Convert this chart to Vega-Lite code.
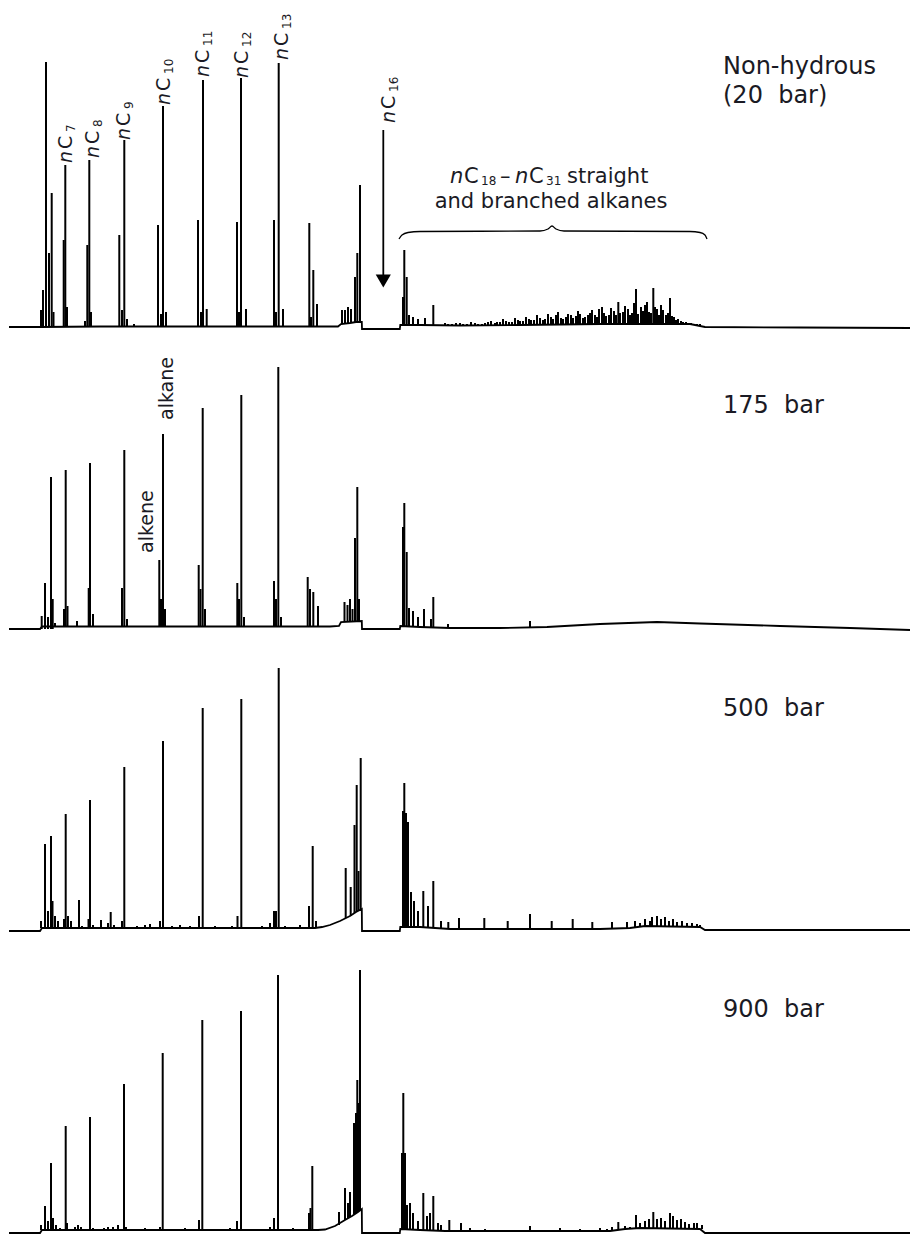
{
"$schema":"https://vega.github.io/schema/vega-lite/v6.json",
"padding":0,
"background":"white",
"config":{"view":{"stroke":null},"concat":{"spacing":0},"text":{"font":"DejaVu Sans","color":"#1a1a24"}},
"datasets":{
"base":[
{"p":1,"x":9,"y":0},{"p":1,"x":40,"y":0},{"p":1,"x":100,"y":0.5},{"p":1,"x":300,"y":0.5},{"p":1,"x":338,"y":0.5},{"p":1,"x":341,"y":3},{"p":1,"x":350,"y":4},{"p":1,"x":356,"y":5},{"p":1,"x":361.8,"y":5},{"p":1,"x":362,"y":-2},{"p":1,"x":399.8,"y":-2},{"p":1,"x":400.3,"y":2},{"p":1,"x":420,"y":2},{"p":1,"x":460,"y":1.5},{"p":1,"x":520,"y":2},{"p":1,"x":600,"y":3},{"p":1,"x":690,"y":3},{"p":1,"x":705,"y":0},{"p":1,"x":800,"y":-0.5},{"p":1,"x":910,"y":-1},
{"p":2,"x":9,"y":0},{"p":2,"x":40,"y":0},{"p":2,"x":42,"y":2.5},{"p":2,"x":330,"y":2.5},{"p":2,"x":339,"y":3},{"p":2,"x":341,"y":7},{"p":2,"x":361.8,"y":8},{"p":2,"x":362,"y":0},{"p":2,"x":399.8,"y":0},{"p":2,"x":400.3,"y":3},{"p":2,"x":420,"y":2},{"p":2,"x":450,"y":1},{"p":2,"x":500,"y":1},{"p":2,"x":547,"y":2},{"p":2,"x":600,"y":5},{"p":2,"x":657,"y":7},{"p":2,"x":700,"y":5.5},{"p":2,"x":780,"y":3},{"p":2,"x":850,"y":1},{"p":2,"x":910,"y":-1},
{"p":3,"x":9,"y":0},{"p":3,"x":40,"y":0},{"p":3,"x":42,"y":3},{"p":3,"x":315,"y":3},{"p":3,"x":322,"y":4},{"p":3,"x":330,"y":6},{"p":3,"x":340,"y":10},{"p":3,"x":350,"y":15},{"p":3,"x":356,"y":19},{"p":3,"x":361.8,"y":22},{"p":3,"x":362,"y":0},{"p":3,"x":399.8,"y":0},{"p":3,"x":400.3,"y":4},{"p":3,"x":420,"y":4},{"p":3,"x":450,"y":2},{"p":3,"x":600,"y":2},{"p":3,"x":630,"y":3},{"p":3,"x":645,"y":5},{"p":3,"x":700,"y":4},{"p":3,"x":705,"y":1},{"p":3,"x":910,"y":1},
{"p":4,"x":9,"y":0},{"p":4,"x":40,"y":0},{"p":4,"x":42,"y":3},{"p":4,"x":318,"y":3},{"p":4,"x":325,"y":3.5},{"p":4,"x":335,"y":7},{"p":4,"x":345,"y":13},{"p":4,"x":352,"y":17},{"p":4,"x":358,"y":21},{"p":4,"x":361.8,"y":24},{"p":4,"x":362,"y":0},{"p":4,"x":399.8,"y":0},{"p":4,"x":400.3,"y":4},{"p":4,"x":420,"y":3},{"p":4,"x":445,"y":2},{"p":4,"x":610,"y":2},{"p":4,"x":625,"y":4},{"p":4,"x":640,"y":5},{"p":4,"x":700,"y":4},{"p":4,"x":705,"y":0},{"p":4,"x":910,"y":0}
],
"pk":[
{"p":1,"x":41,"y":17,"b":0},{"p":1,"x":43,"y":37,"b":0},{"p":1,"x":46,"y":265,"b":0},{"p":1,"x":49,"y":74,"b":0},{"p":1,"x":51.7,"y":134,"b":0},{"p":1,"x":53.5,"y":15,"b":0},
{"p":1,"x":63.7,"y":87,"b":0},{"p":1,"x":65.3,"y":162,"b":0},{"p":1,"x":67,"y":20,"b":0},
{"p":1,"x":85,"y":6,"b":0},{"p":1,"x":87.3,"y":82,"b":0},{"p":1,"x":89.3,"y":167,"b":0},{"p":1,"x":91,"y":15,"b":0},
{"p":1,"x":119.3,"y":92,"b":0},{"p":1,"x":122,"y":17,"b":0},{"p":1,"x":124.3,"y":187,"b":0},{"p":1,"x":127,"y":8,"b":0},{"p":1,"x":134,"y":3,"b":0},
{"p":1,"x":158,"y":102,"b":0},{"p":1,"x":161,"y":13,"b":0},{"p":1,"x":163,"y":221,"b":0},{"p":1,"x":166,"y":15,"b":0},
{"p":1,"x":198,"y":107,"b":0},{"p":1,"x":201,"y":15,"b":0},{"p":1,"x":203,"y":247,"b":0},{"p":1,"x":206.7,"y":18,"b":0},
{"p":1,"x":237,"y":105,"b":0},{"p":1,"x":239,"y":15,"b":0},{"p":1,"x":241,"y":249,"b":0},{"p":1,"x":246,"y":18,"b":0},
{"p":1,"x":274,"y":107,"b":0},{"p":1,"x":276,"y":15,"b":0},{"p":1,"x":278.7,"y":264,"b":0},{"p":1,"x":283,"y":18,"b":0},
{"p":1,"x":309.3,"y":104,"b":0},{"p":1,"x":311,"y":10,"b":0},{"p":1,"x":313.3,"y":57,"b":0},{"p":1,"x":317,"y":23,"b":0},
{"p":1,"x":342,"y":17,"b":3},{"p":1,"x":345,"y":17,"b":4},{"p":1,"x":348,"y":20,"b":4},{"p":1,"x":351,"y":18,"b":4},{"p":1,"x":355,"y":50,"b":5},{"p":1,"x":357.3,"y":74,"b":5},{"p":1,"x":360,"y":142,"b":5},
{"p":1,"x":403,"y":30,"b":2},{"p":1,"x":404.3,"y":77,"b":2},{"p":1,"x":406.7,"y":50,"b":2},{"p":1,"x":409,"y":12,"b":2},{"p":1,"x":413,"y":10,"b":2},{"p":1,"x":418,"y":8,"b":2},{"p":1,"x":425,"y":9,"b":2},{"p":1,"x":433.3,"y":22,"b":2},
{"p":1,"x":445,"y":4,"b":1.5},{"p":1,"x":448,"y":3,"b":1.5},{"p":1,"x":452,"y":3,"b":1.5},{"p":1,"x":456,"y":4,"b":1.5},{"p":1,"x":460,"y":4,"b":1.5},{"p":1,"x":463,"y":3,"b":1.5},{"p":1,"x":467,"y":3,"b":1.5},{"p":1,"x":471,"y":5,"b":1.5},{"p":1,"x":475,"y":4,"b":1.5},{"p":1,"x":478,"y":3,"b":1.5},{"p":1,"x":482,"y":3,"b":1.5},{"p":1,"x":485,"y":4,"b":1.5},{"p":1,"x":488,"y":5,"b":1.5},{"p":1,"x":491,"y":6,"b":1.5},{"p":1,"x":495,"y":4,"b":1.5},{"p":1,"x":497,"y":5,"b":1.5},{"p":1,"x":500,"y":5,"b":1.5},{"p":1,"x":503,"y":8,"b":1.5},
{"p":1,"x":506,"y":6,"b":2},{"p":1,"x":509,"y":5,"b":2},{"p":1,"x":512,"y":5,"b":2},{"p":1,"x":515,"y":9,"b":2},{"p":1,"x":518,"y":7,"b":2},{"p":1,"x":520,"y":6,"b":2},{"p":1,"x":523,"y":6,"b":2},{"p":1,"x":526,"y":10,"b":2},{"p":1,"x":529,"y":8,"b":2},{"p":1,"x":531,"y":7,"b":2},{"p":1,"x":534,"y":7,"b":2},{"p":1,"x":537,"y":12,"b":2},{"p":1,"x":540,"y":9,"b":2},{"p":1,"x":543,"y":7,"b":2},{"p":1,"x":545,"y":8,"b":2},{"p":1,"x":548,"y":13,"b":2},{"p":1,"x":551,"y":10,"b":2},{"p":1,"x":553,"y":8,"b":2},{"p":1,"x":556,"y":12,"b":2},{"p":1,"x":558,"y":15,"b":2},{"p":1,"x":561,"y":9,"b":2},{"p":1,"x":563,"y":8,"b":2},{"p":1,"x":566,"y":10,"b":2},{"p":1,"x":568,"y":13,"b":2},{"p":1,"x":571,"y":12,"b":2},{"p":1,"x":573,"y":9,"b":2},{"p":1,"x":576,"y":11,"b":2},{"p":1,"x":578,"y":16,"b":2},{"p":1,"x":580,"y":13,"b":2},{"p":1,"x":583,"y":9,"b":2},{"p":1,"x":585,"y":10,"b":2},{"p":1,"x":588,"y":12,"b":2},
{"p":1,"x":590,"y":14,"b":3},{"p":1,"x":592,"y":17,"b":3},{"p":1,"x":595,"y":12,"b":3},{"p":1,"x":597,"y":10,"b":3},{"p":1,"x":599,"y":18,"b":3},{"p":1,"x":602,"y":20,"b":3},{"p":1,"x":604,"y":14,"b":3},{"p":1,"x":606,"y":11,"b":3},{"p":1,"x":609,"y":12,"b":3},{"p":1,"x":611,"y":19,"b":3},{"p":1,"x":614,"y":16,"b":3},{"p":1,"x":616,"y":12,"b":3},{"p":1,"x":618.3,"y":25,"b":3},{"p":1,"x":620,"y":14,"b":3},{"p":1,"x":623,"y":15,"b":3},{"p":1,"x":625,"y":21,"b":3},{"p":1,"x":628,"y":18,"b":3},{"p":1,"x":630,"y":12,"b":3},{"p":1,"x":632,"y":14,"b":3},{"p":1,"x":634,"y":24,"b":3},{"p":1,"x":636,"y":38,"b":3},{"p":1,"x":638,"y":13,"b":3},{"p":1,"x":641,"y":20,"b":3},{"p":1,"x":643,"y":16,"b":3},{"p":1,"x":645,"y":22,"b":3},{"p":1,"x":647,"y":25,"b":3},{"p":1,"x":649,"y":15,"b":3},{"p":1,"x":651,"y":14,"b":3},{"p":1,"x":653.3,"y":39,"b":3},{"p":1,"x":655,"y":20,"b":3},{"p":1,"x":657,"y":18,"b":3},{"p":1,"x":659,"y":12,"b":3},{"p":1,"x":661,"y":22,"b":3},{"p":1,"x":663,"y":17,"b":3},{"p":1,"x":666,"y":12,"b":3},{"p":1,"x":668,"y":14,"b":3},{"p":1,"x":670,"y":29,"b":3},{"p":1,"x":672,"y":11,"b":3},{"p":1,"x":674,"y":10,"b":3},{"p":1,"x":676,"y":7,"b":3},{"p":1,"x":678,"y":8,"b":3},{"p":1,"x":681,"y":6,"b":3},{"p":1,"x":683,"y":5,"b":3},{"p":1,"x":686,"y":5,"b":3},{"p":1,"x":688,"y":4,"b":3},{"p":1,"x":691,"y":4,"b":2},{"p":1,"x":694,"y":3,"b":2},{"p":1,"x":697,"y":3,"b":2},{"p":1,"x":700,"y":3,"b":1},
{"p":2,"x":41.7,"y":13,"b":0},{"p":2,"x":45,"y":46,"b":0},{"p":2,"x":48,"y":12,"b":0},{"p":2,"x":51,"y":152,"b":0},{"p":2,"x":52.7,"y":30,"b":0},{"p":2,"x":55,"y":6,"b":2},
{"p":2,"x":64,"y":20,"b":2},{"p":2,"x":65.7,"y":159,"b":2},{"p":2,"x":67.5,"y":23,"b":2},{"p":2,"x":77,"y":8,"b":2},
{"p":2,"x":88.7,"y":41,"b":2},{"p":2,"x":90,"y":166,"b":2},{"p":2,"x":93,"y":15,"b":2},
{"p":2,"x":122,"y":41,"b":2},{"p":2,"x":124.3,"y":179,"b":2},{"p":2,"x":127,"y":10,"b":2},
{"p":2,"x":159.3,"y":69,"b":2},{"p":2,"x":161,"y":30,"b":2},{"p":2,"x":163,"y":195,"b":2},{"p":2,"x":165,"y":20,"b":2},
{"p":2,"x":198.7,"y":64,"b":2},{"p":2,"x":200.5,"y":40,"b":2},{"p":2,"x":202.7,"y":221,"b":2},{"p":2,"x":205,"y":20,"b":2},
{"p":2,"x":237.3,"y":46,"b":2},{"p":2,"x":239,"y":30,"b":2},{"p":2,"x":241.3,"y":234,"b":2},{"p":2,"x":244,"y":12,"b":2},
{"p":2,"x":274,"y":48,"b":2},{"p":2,"x":276,"y":30,"b":2},{"p":2,"x":278.3,"y":262,"b":2},{"p":2,"x":281,"y":12,"b":2},
{"p":2,"x":307.7,"y":52,"b":2},{"p":2,"x":310,"y":40,"b":2},{"p":2,"x":313.3,"y":37,"b":2},{"p":2,"x":318,"y":23,"b":2},
{"p":2,"x":344.5,"y":27,"b":7},{"p":2,"x":347.5,"y":24,"b":7},{"p":2,"x":350,"y":30,"b":7},{"p":2,"x":352.5,"y":20,"b":7},{"p":2,"x":355,"y":91,"b":8},{"p":2,"x":357.3,"y":142,"b":8},{"p":2,"x":359,"y":30,"b":8},
{"p":2,"x":403,"y":102,"b":3},{"p":2,"x":404.3,"y":126,"b":3},{"p":2,"x":406.7,"y":77,"b":3},{"p":2,"x":409,"y":21,"b":3},{"p":2,"x":413,"y":18,"b":2},{"p":2,"x":418,"y":12,"b":2},{"p":2,"x":424,"y":20,"b":2},{"p":2,"x":431,"y":10,"b":2},{"p":2,"x":433.3,"y":32,"b":2},{"p":2,"x":448,"y":5,"b":1},{"p":2,"x":530,"y":8,"b":1},
{"p":3,"x":41,"y":10,"b":3},{"p":3,"x":45,"y":87,"b":3},{"p":3,"x":48,"y":20,"b":3},{"p":3,"x":51,"y":95,"b":3},{"p":3,"x":52.5,"y":30,"b":3},{"p":3,"x":55,"y":15,"b":3},{"p":3,"x":58,"y":10,"b":3},
{"p":3,"x":64,"y":12,"b":3},{"p":3,"x":65.7,"y":117,"b":3},{"p":3,"x":68,"y":15,"b":3},{"p":3,"x":71,"y":10,"b":3},
{"p":3,"x":79,"y":31,"b":3},{"p":3,"x":82,"y":5,"b":3},
{"p":3,"x":88.5,"y":12,"b":3},{"p":3,"x":90,"y":131,"b":3},{"p":3,"x":93,"y":6,"b":3},
{"p":3,"x":101,"y":11,"b":3},{"p":3,"x":108,"y":8,"b":3},{"p":3,"x":110.7,"y":19,"b":3},{"p":3,"x":114,"y":6,"b":3},
{"p":3,"x":122,"y":10,"b":3},{"p":3,"x":124.3,"y":164,"b":3},
{"p":3,"x":130,"y":4,"b":3},{"p":3,"x":137,"y":5,"b":3},{"p":3,"x":145,"y":6,"b":3},{"p":3,"x":150,"y":7,"b":3},
{"p":3,"x":160,"y":10,"b":3},{"p":3,"x":163,"y":190,"b":3},
{"p":3,"x":172,"y":5,"b":3},{"p":3,"x":180,"y":6,"b":3},{"p":3,"x":190,"y":5,"b":3},
{"p":3,"x":199,"y":15,"b":3},{"p":3,"x":202.7,"y":223,"b":3},
{"p":3,"x":215,"y":5,"b":3},{"p":3,"x":225,"y":4,"b":3},{"p":3,"x":232,"y":5,"b":3},
{"p":3,"x":237.5,"y":15,"b":3},{"p":3,"x":241.3,"y":232,"b":3},
{"p":3,"x":250,"y":4,"b":3},{"p":3,"x":262,"y":5,"b":3},{"p":3,"x":270,"y":8,"b":3},
{"p":3,"x":274,"y":20,"b":3},{"p":3,"x":276,"y":20,"b":3},{"p":3,"x":278.7,"y":263,"b":3},
{"p":3,"x":285,"y":5,"b":3},{"p":3,"x":295,"y":4,"b":3},{"p":3,"x":300,"y":6,"b":3},
{"p":3,"x":309,"y":25,"b":3},{"p":3,"x":312.7,"y":85,"b":3},{"p":3,"x":316,"y":10,"b":4},
{"p":3,"x":345.7,"y":63,"b":13},{"p":3,"x":350.7,"y":44,"b":15},{"p":3,"x":354.5,"y":106,"b":18},{"p":3,"x":356.7,"y":146,"b":19},{"p":3,"x":358.5,"y":60,"b":20},{"p":3,"x":360.7,"y":173,"b":21},
{"p":3,"x":403,"y":120,"b":4},{"p":3,"x":404.3,"y":148,"b":4},{"p":3,"x":406,"y":118,"b":4},{"p":3,"x":408,"y":109,"b":4},{"p":3,"x":411,"y":39,"b":4},{"p":3,"x":414,"y":30,"b":4},{"p":3,"x":418,"y":20,"b":4},{"p":3,"x":423.3,"y":40,"b":3},{"p":3,"x":428,"y":25,"b":3},{"p":3,"x":433.3,"y":50,"b":3},{"p":3,"x":441,"y":10,"b":2},{"p":3,"x":448.3,"y":9,"b":2},{"p":3,"x":459,"y":13,"b":2},{"p":3,"x":484.3,"y":13,"b":2},{"p":3,"x":507.7,"y":10,"b":2},{"p":3,"x":530,"y":17,"b":2},{"p":3,"x":551.7,"y":10,"b":2},{"p":3,"x":572.7,"y":12,"b":2},{"p":3,"x":592.3,"y":9,"b":2},{"p":3,"x":612,"y":9,"b":2},{"p":3,"x":627,"y":9,"b":3},{"p":3,"x":635,"y":10,"b":3},{"p":3,"x":640,"y":8,"b":4},{"p":3,"x":645,"y":12,"b":5},{"p":3,"x":650,"y":10,"b":5},{"p":3,"x":652,"y":14,"b":5},{"p":3,"x":657,"y":15,"b":5},{"p":3,"x":661,"y":12,"b":5},{"p":3,"x":665,"y":14,"b":5},{"p":3,"x":669,"y":10,"b":5},{"p":3,"x":673,"y":12,"b":5},{"p":3,"x":677,"y":9,"b":5},{"p":3,"x":682,"y":10,"b":4},{"p":3,"x":687,"y":8,"b":4},{"p":3,"x":692,"y":8,"b":4},{"p":3,"x":697,"y":7,"b":4},{"p":3,"x":700,"y":6,"b":4},
{"p":4,"x":41,"y":8,"b":3},{"p":4,"x":45,"y":27,"b":3},{"p":4,"x":48,"y":12,"b":3},{"p":4,"x":51,"y":70,"b":3},{"p":4,"x":53,"y":15,"b":3},{"p":4,"x":56,"y":8,"b":3},{"p":4,"x":60,"y":5,"b":3},
{"p":4,"x":65.7,"y":107,"b":3},{"p":4,"x":67,"y":10,"b":3},{"p":4,"x":75,"y":6,"b":3},{"p":4,"x":78,"y":8,"b":3},{"p":4,"x":81,"y":6,"b":3},
{"p":4,"x":90,"y":116,"b":3},{"p":4,"x":93,"y":5,"b":3},
{"p":4,"x":104,"y":5,"b":3},{"p":4,"x":108,"y":6,"b":3},{"p":4,"x":113,"y":6,"b":3},{"p":4,"x":118,"y":8,"b":3},
{"p":4,"x":124,"y":149,"b":3},{"p":4,"x":126,"y":6,"b":3},
{"p":4,"x":145,"y":5,"b":3},{"p":4,"x":155,"y":4,"b":3},
{"p":4,"x":160,"y":6,"b":3},{"p":4,"x":162.7,"y":180,"b":3},
{"p":4,"x":175,"y":4,"b":3},{"p":4,"x":185,"y":5,"b":3},
{"p":4,"x":199,"y":13,"b":3},{"p":4,"x":202.3,"y":213,"b":3},
{"p":4,"x":220,"y":4,"b":3},{"p":4,"x":230,"y":5,"b":3},
{"p":4,"x":237,"y":12,"b":3},{"p":4,"x":241,"y":222,"b":3},
{"p":4,"x":260,"y":4,"b":3},{"p":4,"x":270,"y":6,"b":3},
{"p":4,"x":274,"y":15,"b":3},{"p":4,"x":278,"y":258,"b":3},
{"p":4,"x":293,"y":5,"b":3},{"p":4,"x":300,"y":4,"b":3},
{"p":4,"x":309,"y":20,"b":3},{"p":4,"x":310.5,"y":25,"b":3},{"p":4,"x":312.3,"y":67,"b":3},
{"p":4,"x":339,"y":21,"b":8},{"p":4,"x":345,"y":45,"b":13},{"p":4,"x":348,"y":30,"b":15},{"p":4,"x":350,"y":41,"b":16},{"p":4,"x":354,"y":110,"b":19},{"p":4,"x":356,"y":120,"b":20},{"p":4,"x":357.3,"y":153,"b":21},{"p":4,"x":358.5,"y":130,"b":22},{"p":4,"x":360,"y":263,"b":23},
{"p":4,"x":402,"y":80,"b":4},{"p":4,"x":403.3,"y":140,"b":4},{"p":4,"x":405,"y":80,"b":4},{"p":4,"x":407,"y":28,"b":4},{"p":4,"x":410,"y":30,"b":4},{"p":4,"x":413,"y":20,"b":4},{"p":4,"x":418,"y":12,"b":3},{"p":4,"x":423.3,"y":40,"b":3},{"p":4,"x":427,"y":17,"b":3},{"p":4,"x":430,"y":20,"b":3},{"p":4,"x":433.3,"y":37,"b":3},{"p":4,"x":438,"y":10,"b":3},{"p":4,"x":441,"y":8,"b":2},{"p":4,"x":449.3,"y":13,"b":2},{"p":4,"x":461,"y":10,"b":2},{"p":4,"x":470,"y":5,"b":2},{"p":4,"x":485,"y":4,"b":2},{"p":4,"x":530,"y":7,"b":2},{"p":4,"x":560,"y":5,"b":2},{"p":4,"x":580,"y":4,"b":2},{"p":4,"x":600,"y":5,"b":2},{"p":4,"x":607,"y":4,"b":2},{"p":4,"x":612,"y":6,"b":2},{"p":4,"x":618.3,"y":11,"b":3},{"p":4,"x":625,"y":7,"b":4},{"p":4,"x":630,"y":6,"b":4},{"p":4,"x":636,"y":18,"b":5},{"p":4,"x":640,"y":10,"b":5},{"p":4,"x":645,"y":12,"b":5},{"p":4,"x":649,"y":14,"b":5},{"p":4,"x":653.3,"y":21,"b":5},{"p":4,"x":657,"y":14,"b":5},{"p":4,"x":661,"y":15,"b":5},{"p":4,"x":665,"y":12,"b":5},{"p":4,"x":670,"y":20,"b":5},{"p":4,"x":673,"y":17,"b":5},{"p":4,"x":677,"y":13,"b":5},{"p":4,"x":681,"y":14,"b":5},{"p":4,"x":685,"y":11,"b":5},{"p":4,"x":689,"y":9,"b":5},{"p":4,"x":694,"y":10,"b":4},{"p":4,"x":697,"y":10,"b":4},{"p":4,"x":702,"y":8,"b":4}
],
"lbl":[
{"x":72,"y":164,"s":"7"},{"x":99,"y":169,"s":"8"},{"x":130,"y":187,"s":"9"},{"x":170,"y":222,"s":"10"},{"x":209,"y":250,"s":"11"},{"x":248,"y":249,"s":"12"},{"x":288,"y":267,"s":"13"},{"x":395,"y":204,"s":"16"}
],
"ann":[
{"k":"i","x":450,"y":144,"t":"n"},{"k":"m","x":464,"y":144,"t":"C"},{"k":"s","x":481,"y":144,"t":"18"},{"k":"m","x":500,"y":144,"t":"–"},{"k":"i","x":515,"y":144,"t":"n"},{"k":"m","x":529,"y":144,"t":"C"},{"k":"s","x":546,"y":144,"t":"31"},{"k":"m","x":567,"y":144,"t":"straight"},{"k":"c","x":551,"y":119,"t":"and branched alkanes"}
],
"brace":[
{"x":399,"y":88},{"x":402,"y":92},{"x":408,"y":94.5},{"x":420,"y":95.5},{"x":540,"y":96},{"x":548,"y":98},{"x":552,"y":101},{"x":556,"y":98},{"x":564,"y":96},{"x":690,"y":95.5},{"x":700,"y":94.5},{"x":705,"y":92},{"x":707,"y":88}
],
"arrow":[{"x":383.3,"y":197,"b":52,"hy":46}],
"txt":[
{"p":1,"x":723,"y":253,"t":"Non-hydrous"},{"p":1,"x":723,"y":224,"t":"(20\u00a0 bar)"},{"p":2,"x":723,"y":216,"t":"175\u00a0 bar"},{"p":3,"x":723,"y":215,"t":"500\u00a0 bar"},{"p":4,"x":723,"y":216,"t":"900\u00a0 bar"}
],
"rot":[{"x":153,"y":76,"t":"alkene"},{"x":173,"y":209,"t":"alkane"}]
},
"bounds":"flush",
"vconcat":[
{
"width":910,"height":327,
"encoding":{"x":{"field":"x","type":"quantitative","scale":{"domain":[0,910],"nice":false,"zero":false},"axis":null},"y":{"field":"y","type":"quantitative","scale":{"domain":[0,327],"nice":false,"zero":false},"axis":null}},
"layer":[
{"data":{"name":"base"},"transform":[{"filter":"datum.p==1"}],"mark":{"type":"line","color":"#000","strokeWidth":1.8},"encoding":{}},
{"data":{"name":"pk"},"transform":[{"filter":"datum.p==1"}],"mark":{"type":"rule","color":"#000","strokeWidth":2},"encoding":{"y2":{"field":"b"}}},
{"data":{"name":"brace"},"mark":{"type":"line","color":"#000","strokeWidth":1.3,"interpolate":"monotone"},"encoding":{}},
{"data":{"name":"arrow"},"mark":{"type":"rule","color":"#000","strokeWidth":1.8},"encoding":{"y2":{"field":"b"}}},
{"data":{"name":"arrow"},"mark":{"type":"point","shape":"triangle-down","filled":true,"color":"#000","size":230,"opacity":1},"encoding":{"y":{"field":"hy","type":"quantitative"}}},
{"data":{"name":"lbl"},"mark":{"type":"text","angle":270,"align":"left","baseline":"alphabetic","fontSize":19,"fontStyle":"italic"},"encoding":{"text":{"value":"n"}}},
{"data":{"name":"lbl"},"mark":{"type":"text","angle":270,"align":"left","baseline":"alphabetic","fontSize":19,"dx":14},"encoding":{"text":{"value":"C"}}},
{"data":{"name":"lbl"},"mark":{"type":"text","angle":270,"align":"left","baseline":"alphabetic","fontSize":12,"dx":31,"dy":3},"encoding":{"text":{"field":"s"}}},
{"data":{"name":"ann"},"transform":[{"filter":"datum.k=='i'"}],"mark":{"type":"text","align":"left","baseline":"alphabetic","fontSize":21,"fontStyle":"italic"},"encoding":{"text":{"field":"t"}}},
{"data":{"name":"ann"},"transform":[{"filter":"datum.k=='m'"}],"mark":{"type":"text","align":"left","baseline":"alphabetic","fontSize":21},"encoding":{"text":{"field":"t"}}},
{"data":{"name":"ann"},"transform":[{"filter":"datum.k=='s'"}],"mark":{"type":"text","align":"left","baseline":"alphabetic","fontSize":12,"dy":2},"encoding":{"text":{"field":"t"}}},
{"data":{"name":"ann"},"transform":[{"filter":"datum.k=='c'"}],"mark":{"type":"text","align":"center","baseline":"alphabetic","fontSize":21},"encoding":{"text":{"field":"t"}}},
{"data":{"name":"txt"},"transform":[{"filter":"datum.p==1"}],"mark":{"type":"text","align":"left","baseline":"alphabetic","fontSize":24},"encoding":{"text":{"field":"t"}}}
]
},
{
"width":910,"height":302,
"encoding":{"x":{"field":"x","type":"quantitative","scale":{"domain":[0,910],"nice":false,"zero":false},"axis":null},"y":{"field":"y","type":"quantitative","scale":{"domain":[0,302],"nice":false,"zero":false},"axis":null}},
"layer":[
{"data":{"name":"base"},"transform":[{"filter":"datum.p==2"}],"mark":{"type":"line","color":"#000","strokeWidth":1.8},"encoding":{}},
{"data":{"name":"pk"},"transform":[{"filter":"datum.p==2"}],"mark":{"type":"rule","color":"#000","strokeWidth":2},"encoding":{"y2":{"field":"b"}}},
{"data":{"name":"rot"},"mark":{"type":"text","angle":270,"align":"left","baseline":"alphabetic","fontSize":19},"encoding":{"text":{"field":"t"}}},
{"data":{"name":"txt"},"transform":[{"filter":"datum.p==2"}],"mark":{"type":"text","align":"left","baseline":"alphabetic","fontSize":24},"encoding":{"text":{"field":"t"}}}
]
},
{
"width":910,"height":302,
"encoding":{"x":{"field":"x","type":"quantitative","scale":{"domain":[0,910],"nice":false,"zero":false},"axis":null},"y":{"field":"y","type":"quantitative","scale":{"domain":[0,302],"nice":false,"zero":false},"axis":null}},
"layer":[
{"data":{"name":"base"},"transform":[{"filter":"datum.p==3"}],"mark":{"type":"line","color":"#000","strokeWidth":1.8},"encoding":{}},
{"data":{"name":"pk"},"transform":[{"filter":"datum.p==3"}],"mark":{"type":"rule","color":"#000","strokeWidth":2},"encoding":{"y2":{"field":"b"}}},
{"data":{"name":"txt"},"transform":[{"filter":"datum.p==3"}],"mark":{"type":"text","align":"left","baseline":"alphabetic","fontSize":24},"encoding":{"text":{"field":"t"}}}
]
},
{
"width":910,"height":302,
"encoding":{"x":{"field":"x","type":"quantitative","scale":{"domain":[0,910],"nice":false,"zero":false},"axis":null},"y":{"field":"y","type":"quantitative","scale":{"domain":[0,302],"nice":false,"zero":false},"axis":null}},
"layer":[
{"data":{"name":"base"},"transform":[{"filter":"datum.p==4"}],"mark":{"type":"line","color":"#000","strokeWidth":1.8},"encoding":{}},
{"data":{"name":"pk"},"transform":[{"filter":"datum.p==4"}],"mark":{"type":"rule","color":"#000","strokeWidth":2},"encoding":{"y2":{"field":"b"}}},
{"data":{"name":"txt"},"transform":[{"filter":"datum.p==4"}],"mark":{"type":"text","align":"left","baseline":"alphabetic","fontSize":24},"encoding":{"text":{"field":"t"}}}
]
}
]
}
